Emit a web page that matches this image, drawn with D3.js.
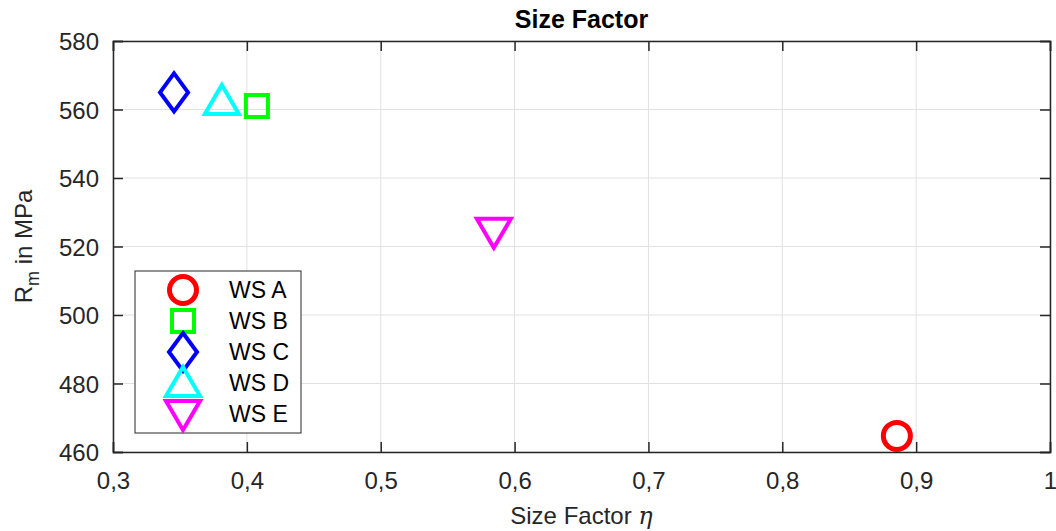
<!DOCTYPE html>
<html>
<head>
<meta charset="utf-8">
<script src="https://cdn.jsdelivr.net/npm/d3@7"></script>
<style>
	body { margin: 0; background: white; }
	text { font-family: "Liberation Sans", Arial, sans-serif; fill: #262626; }
</style>
</head>
<body>
<div class="chart"></div>
<script>
// data
const names = ['WS A', 'WS B', 'WS C', 'WS D', 'WS E'];
const sizeFactor = [0.8856, 0.4075, 0.3456, 0.3813, 0.5845];
const rm = [464.7, 561, 565, 562.5, 524.3];
const colors = ['#ff0000', '#00ff00', '#0000ff', '#00ffff', '#ff00ff'];
const shapes = ['circle', 'square', 'diamond', 'up', 'down'];
const xTicks = [0.3, 0.4, 0.5, 0.6, 0.7, 0.8, 0.9, 1];
const yTicks = [460, 480, 500, 520, 540, 560, 580];

const width = 1056, height = 531;
const margin = { left: 113, right: 6, top: 41, bottom: 79 };

const svg = d3.select('.chart').append('svg')
	.attr('width', width)
	.attr('height', height);

const x = d3.scaleLinear().domain([0.3, 1]).range([margin.left, width - margin.right]);
const y = d3.scaleLinear().domain([460, 580]).range([height - margin.bottom, margin.top]);

// grid
svg.append('g').selectAll('line.gx')
	.data(xTicks)
	.enter().append('line')
	.attr('x1', d => x(d)).attr('x2', d => x(d))
	.attr('y1', y(460)).attr('y2', y(580))
	.attr('stroke', '#e1e1e1').attr('stroke-width', 1);
svg.append('g').selectAll('line.gy')
	.data(yTicks)
	.enter().append('line')
	.attr('x1', x(0.3)).attr('x2', x(1))
	.attr('y1', d => y(d)).attr('y2', d => y(d))
	.attr('stroke', '#e1e1e1').attr('stroke-width', 1);

// axes, ticks pointing inwards like matlab
const fmt = d => String(d).replace('.', ',');
const axB = svg.append('g').attr('transform', `translate(0,${y(460)})`)
	.call(d3.axisBottom(x).tickValues(xTicks).tickSize(-10).tickFormat(fmt));
const axT = svg.append('g').attr('transform', `translate(0,${y(580)})`)
	.call(d3.axisTop(x).tickValues(xTicks).tickSize(-10).tickFormat(''));
const axL = svg.append('g').attr('transform', `translate(${x(0.3)},0)`)
	.call(d3.axisLeft(y).tickValues(yTicks).tickSize(-10).tickPadding(14));
const axR = svg.append('g').attr('transform', `translate(${x(1)},0)`)
	.call(d3.axisRight(y).tickValues(yTicks).tickSize(-10).tickFormat(''));

[axB, axT, axL, axR].forEach(a => {
	a.selectAll('path').attr('stroke', '#262626').attr('stroke-width', 1.5);
	a.selectAll('line').attr('stroke', '#262626').attr('stroke-width', 1.5);
	a.selectAll('text').style('font-size', '24px').attr('fill', '#262626')
		.style('font-family', '"Liberation Sans", Arial, sans-serif');
});
axB.selectAll('.tick text').attr('dy', null).attr('y', 37);
axL.selectAll('.tick text').attr('dy', '0.36em');

// markers
function markerPath(shape) {
	if (shape == 'circle') return 'M13.5,0A13.5,13.5,0,1,1,-13.5,0A13.5,13.5,0,1,1,13.5,0Z';
	if (shape == 'square') return 'M-11,-11L11,-11L11,11L-11,11Z';
	if (shape == 'diamond') return 'M0,-19L14,0L0,19L-14,0Z';
	if (shape == 'up') return 'M0,-16L17,13L-17,13Z';
	return 'M0,16L17,-13L-17,-13Z';
}
const strokeW = s => s == 'circle' ? 5 : 4;

svg.append('g').selectAll('path')
	.data(names)
	.enter().append('path')
	.attr('d', (d, i) => markerPath(shapes[i]))
	.attr('transform', (d, i) => `translate(${x(sizeFactor[i])},${y(rm[i])})`)
	.attr('fill', 'none')
	.attr('stroke', (d, i) => colors[i])
	.attr('stroke-width', (d, i) => strokeW(shapes[i]));

// legend
const legend = svg.append('g');
legend.append('rect')
	.attr('x', 135).attr('y', 271)
	.attr('width', 166).attr('height', 162)
	.attr('fill', 'white')
	.attr('stroke', '#262626').attr('stroke-width', 1);
names.forEach((n, i) => {
	let ly = 290 + i * 31;
	legend.append('path')
		.attr('d', markerPath(shapes[i]))
		.attr('transform', `translate(183,${ly})`)
		.attr('fill', 'none')
		.attr('stroke', colors[i])
		.attr('stroke-width', strokeW(shapes[i]));
	legend.append('text')
		.attr('x', 229).attr('y', ly)
		.attr('dy', '0.36em')
		.style('font-size', '23px')
		.style('fill', '#000')
		.text(n);
});

// title and labels
svg.append('text')
	.attr('x', x(0.65)).attr('y', 28)
	.attr('text-anchor', 'middle')
	.style('font-size', '25px').style('font-weight', 'bold')
	.style('fill', '#000')
	.text('Size Factor');

const xl = svg.append('text')
	.attr('x', x(0.65)).attr('y', 524)
	.attr('text-anchor', 'middle')
	.style('font-size', '24px');
xl.append('tspan').text('Size Factor ');
xl.append('tspan').style('font-style', 'italic').style('font-family', '"DejaVu Serif", serif').text('η');

const yl = svg.append('text')
	.attr('transform', `translate(32,${y(520)}) rotate(-90)`)
	.attr('text-anchor', 'middle')
	.style('font-size', '24px');
yl.append('tspan').text('R');
yl.append('tspan').attr('dy', 7).style('font-size', '18px').text('m');
yl.append('tspan').attr('dy', -7).text(' in MPa');
</script>
</body>
</html>
